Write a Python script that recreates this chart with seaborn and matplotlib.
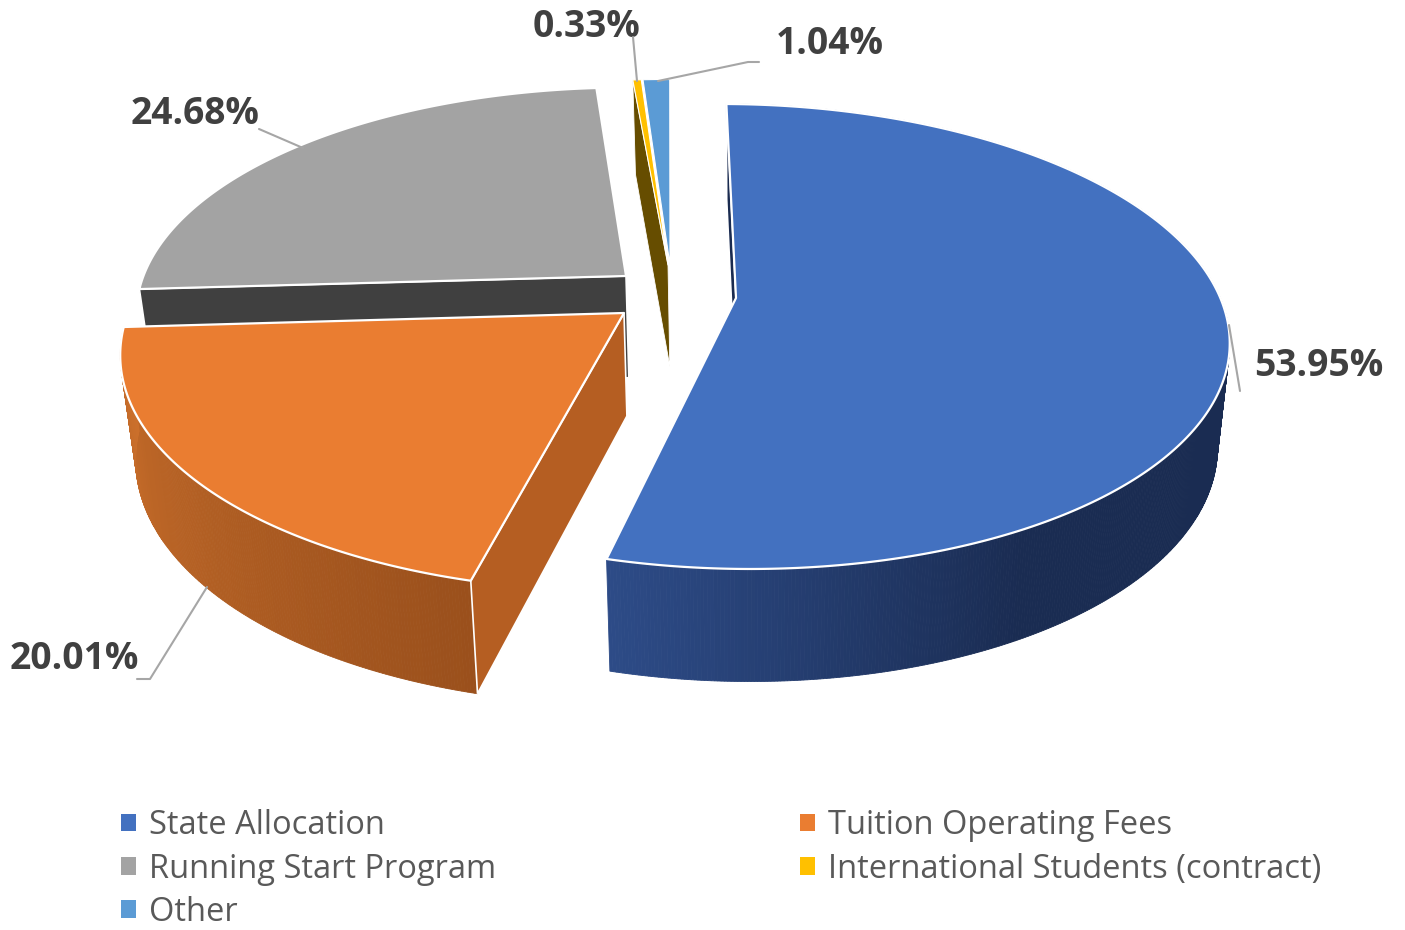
import numpy as np
import matplotlib
matplotlib.use("Agg")
import matplotlib.pyplot as plt
from matplotlib.patches import Patch, Polygon
import seaborn as sns

categories = ["State Allocation", "Tuition Operating Fees", "Running Start Program",
              "International Students (contract)", "Other"]
shares = [53.95, 20.01, 24.68, 0.33, 1.04]

colors = ["#4371C0", "#EA7D31", "#A3A3A3", "#FFC000", "#5B9BD5"]
face_colors = ["#1A2B50", "#B55E22", "#404040", "#664D00", "#3F6F9E"]
wall_colors = [("#2D4B87", "#1A2C52"), ("#CB6F2B", "#9A501C")]
# where each exploded slice has its tip on the page
tips = [(736, 298), (624, 313), (626, 276), (668, 265), (670, 265)]
draw_order = [2, 3, 4, 1, 0]

start_angle = -1.4
cx, cy = 740, 298
a, b, p = 487, 226, 0.1656
roll = 7

sns.set_theme(style="white")
plt.rcParams["font.family"] = ["Open Sans", "DejaVu Sans"]


# ground plane to page, with perspective
def project(X, Y):
    w = 1 - p * Y
    return cx + a * X / w, cy + (b * Y + roll * X) / w


def unproject(x, y):
    eta = (y - cy - roll * (x - cx) / a) / b
    Y = eta / (1 + p * eta)
    return (x - cx) / a * (1 - p * Y), Y


# top surface point -> same point on the lower surface
def drop(x, y):
    return cx + 0.975 * (x - cx), 1.037 * y + 91.5


fig = plt.figure(figsize=(14.05, 9.3), dpi=100)
ax = fig.add_axes([0, 0, 1, 1])
ax.set_xlim(0, 1405)
ax.set_ylim(930, 0)
ax.axis("off")

angles = 360 * np.array(shares) / sum(shares)
starts = start_angle + np.concatenate([[0], np.cumsum(angles)[:-1]])

z = 1
for i in draw_order:
    X0, Y0 = unproject(*tips[i])
    th = np.radians(np.linspace(starts[i], starts[i] + angles[i], max(int(angles[i] * 3), 6)))
    x, y = project(X0 + np.sin(th), Y0 - np.cos(th))
    xb, yb = drop(x, y)
    tx, ty = tips[i]
    txb, tyb = drop(tx, ty)

    # outer wall in small pieces so the shading can change along it,
    # the other slices only show their wall from behind so skip those
    if i < 2:
        shade = sns.blend_palette(wall_colors[i], 64)
        for k in range(len(th) - 1):
            if i == 0:
                t = np.clip((starts[0] + angles[0] - np.degrees(th[k])) / 43, 0, 1)
            else:
                t = 1 - k / (len(th) - 2)
            c = shade[int(t * 63)]
            quad = [(x[k], y[k]), (x[k + 1], y[k + 1]), (xb[k + 1], yb[k + 1]), (xb[k], yb[k])]
            ax.add_patch(Polygon(quad, closed=True, fc=c, ec=c, lw=0.6, zorder=z))
    z += 1

    # flat cut face
    if i != 4:
        face = [(x[0], y[0]), (tx, ty), (txb, tyb), (xb[0], yb[0])]
        ax.add_patch(Polygon(face, closed=True, fc=face_colors[i], ec="white",
                             lw=1.2 if i < 3 else 0.6, zorder=z))
    z += 1

    top = np.vstack([np.column_stack([x, y]), [tx, ty]])
    lw = 1.6 if i < 3 else 0.8
    ax.add_patch(Polygon(top, closed=True, fc=colors[i], ec="white", lw=lw, joinstyle="round", zorder=z))
    z += 1

# leader lines
leaders = [([1229, 1240], [325, 391]),
           ([207, 150, 137], [587, 679, 679]),
           ([303, 259], [148, 129]),
           ([637, 633], [81, 37]),
           ([658, 748, 759], [81, 62, 62])]
for lx, ly in leaders:
    ax.plot(lx, ly, color="#A6A6A6", lw=1.5, zorder=z)

label_pos = [(1319, 366), (74, 659), (195, 114), (587, 27), (830, 44)]
for v, (lx, ly) in zip(shares, label_pos):
    ax.text(lx, ly, f"{v:.2f}%", ha="center", va="center", fontsize=26.8, fontweight="bold", color="#404040")

order = [0, 2, 4, 1, 3]
handles = [Patch(fc=colors[i], ec="none", label=categories[i]) for i in order]
ax.legend(handles=handles, ncols=2, loc="upper left", bbox_to_anchor=(0.0861, 0.130), frameon=False,
          fontsize=23.5, labelcolor="#595959", handlelength=0.46, handleheight=0.46, handletextpad=0.40,
          labelspacing=0.32, columnspacing=9.3, borderpad=0, borderaxespad=0)

fig.savefig("out.png", dpi=100)
